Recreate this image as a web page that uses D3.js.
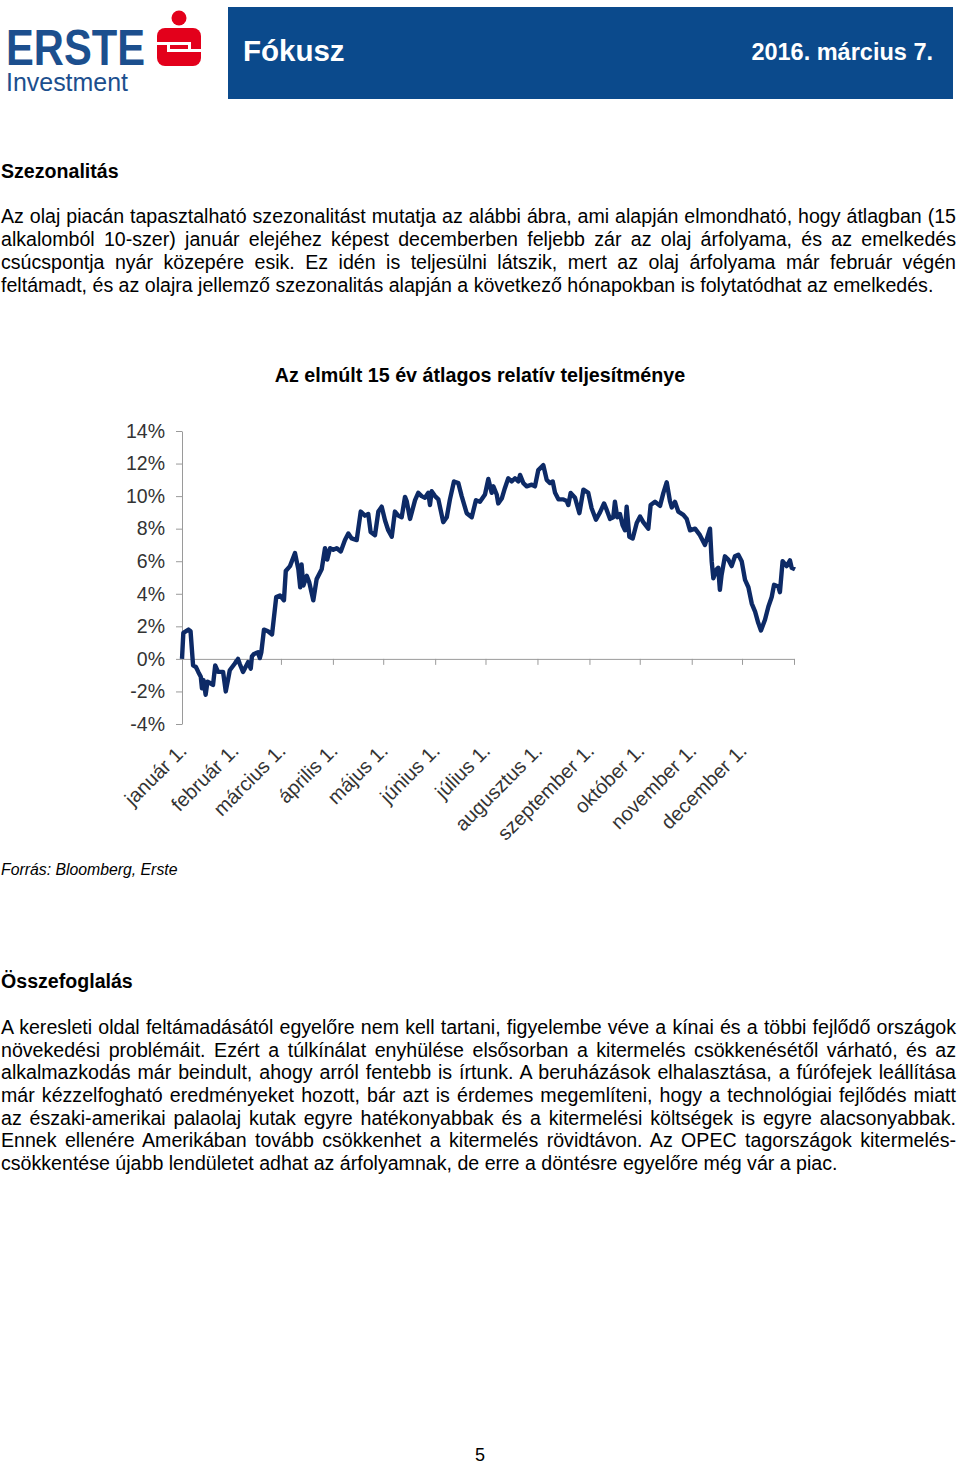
<!DOCTYPE html>
<html><head><meta charset="utf-8">
<script src="https://cdn.jsdelivr.net/npm/d3@7/dist/d3.min.js"></script>
<style>
html,body{margin:0;padding:0;background:#fff;}
#page{position:relative;width:960px;height:1465px;overflow:hidden;font-family:"Liberation Sans",Arial,sans-serif;color:#000;}
.abs{position:absolute;}
.jl{text-align:justify;text-align-last:justify;white-space:nowrap;}
.ll{text-align:left;white-space:nowrap;}
</style></head>
<body><div id="page"></div>
<script>
// ---------- data ----------
const title = "Az elmúlt 15 év átlagos relatív teljesítménye";
const monthLabels = ["január 1.","február 1.","március 1.","április 1.","május 1.","június 1.","július 1.","augusztus 1.","szeptember 1.","október 1.","november 1.","december 1."];
const monthStartDays = [0,31,59,90,120,151,181,212,243,273,304,334];
const yearEndDay = 365;
const yTicks = [-4,-2,0,2,4,6,8,10,12,14];
const days = [
 0,0.8,3.9,5.1,6.6,8.3,9.7,11.2,11.9,12.8,
 14.1,15.2,17.0,18.5,19.8,21.5,24.5,26.1,27.4,28.5,
 31.4,33.4,34.4,36.4,37.4,39.4,41.0,41.7,42.9,45.3,
 46.4,47.3,48.9,51.3,53.7,56.2,58.4,60.8,61.9,64.4,
 67.4,69.4,70.5,71.3,72.4,74.4,75.9,78.3,80.3,83.3,
 85.3,86.6,88.3,90.2,92.3,94.7,97.2,99.2,101.2,104.2,
 106.6,109.1,111.1,112.5,115.1,117.1,119.1,121.1,123.0,125.1,
 127.0,129.0,131.0,133.0,134.0,136.0,139.0,140.9,142.9,144.9,
 146.9,147.9,148.9,150.9,152.9,155.8,157.9,159.8,162.2,164.8,
 166.8,169.8,172.8,175.3,177.7,180.7,182.7,184.7,185.7,187.7,
 188.6,190.7,192.6,194.6,196.6,198.6,200.6,201.6,203.6,205.6,
 208.6,210.5,212.5,215.5,217.5,219.5,221.1,222.5,224.5,227.4,
 229.4,230.4,231.8,234.4,237.0,239.4,242.3,244.3,246.9,249.3,
 251.7,253.3,255.3,257.2,258.2,259.6,261.2,262.8,264.2,265.2,
 266.8,268.8,271.2,273.2,275.1,278.1,279.5,282.1,285.1,287.1,
 289.1,291.0,292.1,294.0,296.0,299.0,301.0,303.0,306.0,308.9,
 311.9,314.9,315.9,316.9,318.9,319.8,320.8,321.8,323.8,325.8,
 327.8,329.8,331.8,333.8,335.8,337.8,339.8,341.8,343.7,345.3,
 347.7,349.7,351.7,353.1,355.6,356.6,358.2,360.6,362.6,363.6,
 365.6];
const values = [
 0.0,1.6,1.8,1.7,-0.4,-0.5,-0.8,-1.1,-1.8,-1.3,
 -2.2,-1.4,-1.5,-1.6,-0.4,-0.8,-0.8,-2.0,-1.3,-0.7,
 -0.3,0.0,-0.3,-0.8,-0.6,-0.2,-0.6,0.15,0.3,0.4,
 0.05,0.4,1.8,1.7,1.5,3.8,3.9,3.6,5.4,5.7,
 6.5,5.5,4.4,5.8,4.5,5.1,4.7,3.6,4.9,5.5,
 6.8,6.1,6.8,6.7,6.8,6.6,7.3,7.7,7.4,7.3,
 9.05,8.8,8.9,7.8,7.6,9.05,9.35,8.5,7.9,7.5,
 9.05,8.8,8.7,9.95,9.7,8.6,9.75,10.2,10.0,9.9,
 10.2,9.45,10.3,10.0,9.8,8.4,8.7,9.8,10.9,10.8,
 10.0,8.95,8.7,9.75,9.65,10.1,11.05,10.2,10.6,10.1,
 9.55,9.85,10.5,11.1,10.9,11.1,10.9,11.3,10.8,10.6,
 10.7,10.6,11.6,11.9,11.0,10.8,10.9,10.2,9.8,9.8,
 9.7,9.45,10.2,9.9,8.95,10.4,10.2,9.25,8.55,9.0,
 9.55,9.15,8.6,8.7,9.65,8.7,8.9,8.2,7.9,9.35,
 7.5,7.4,8.35,8.75,8.4,8.0,9.45,9.65,9.4,10.2,
 10.85,9.7,9.3,9.65,9.05,8.85,8.6,7.9,8.0,7.6,
 7.0,8.0,6.0,4.95,5.5,5.6,4.25,5.15,6.3,6.1,
 5.7,6.3,6.4,6.0,4.85,4.4,3.4,2.9,2.2,1.75,
 2.4,3.2,3.8,4.55,4.45,4.1,6.0,5.7,6.05,5.6,
 5.5];
const para1 = [
 "Az olaj piacán tapasztalható szezonalitást mutatja az alábbi ábra, ami alapján elmondható, hogy átlagban (15",
 "alkalomból 10-szer) január elejéhez képest decemberben feljebb zár az olaj árfolyama, és az emelkedés",
 "csúcspontja nyár közepére esik. Ez idén is teljesülni látszik, mert az olaj árfolyama már február végén",
 "feltámadt, és az olajra jellemző szezonalitás alapján a következő hónapokban is folytatódhat az emelkedés."];
const para2 = [
 "A keresleti oldal feltámadásától egyelőre nem kell tartani, figyelembe véve a kínai és a többi fejlődő országok",
 "növekedési problémáit. Ezért a túlkínálat enyhülése elsősorban a kitermelés csökkenésétől várható, és az",
 "alkalmazkodás már beindult, ahogy arról fentebb is írtunk. A beruházások elhalasztása, a fúrófejek leállítása",
 "már kézzelfogható eredményeket hozott, bár azt is érdemes megemlíteni, hogy a technológiai fejlődés miatt",
 "az északi-amerikai palaolaj kutak egyre hatékonyabbak és a kitermelési költségek is egyre alacsonyabbak.",
 "Ennek ellenére Amerikában tovább csökkenhet a kitermelés rövidtávon. Az OPEC tagországok kitermelés-",
 "csökkentése újabb lendületet adhat az árfolyamnak, de erre a döntésre egyelőre még vár a piac."];

// ---------- page ----------
const page = d3.select("#page");
const svg = page.append("svg").attr("width",960).attr("height",1465)
  .style("position","absolute").style("left",0).style("top",0);

// header logo
const blue = "#1c4f8e";
svg.append("text").attr("x",6).attr("y",65).attr("font-family","Liberation Sans Narrow, Liberation Sans")
  .attr("font-weight","bold").attr("font-size",50).attr("textLength",139).attr("lengthAdjust","spacingAndGlyphs")
  .attr("fill",blue).text("ERSTE");
svg.append("text").attr("x",6).attr("y",91).attr("font-family","Liberation Sans Narrow, Liberation Sans")
  .attr("font-size",25).attr("textLength",122).attr("lengthAdjust","spacingAndGlyphs")
  .attr("fill",blue).text("Investment");
const red = "#e3001b";
svg.append("circle").attr("cx",179).attr("cy",18).attr("r",7.5).attr("fill",red);
svg.append("rect").attr("x",157).attr("y",28).attr("width",44).attr("height",38).attr("rx",8).attr("fill",red);
svg.append("rect").attr("x",157).attr("y",42).attr("width",34).attr("height",3).attr("fill","#fff");
svg.append("rect").attr("x",167).attr("y",49).attr("width",34).attr("height",3).attr("fill","#fff");
svg.append("rect").attr("x",188).attr("y",42).attr("width",3).attr("height",10).attr("fill","#fff");
svg.append("rect").attr("x",167).attr("y",42).attr("width",3).attr("height",10).attr("fill","#fff");
// banner
svg.append("rect").attr("x",228).attr("y",7).attr("width",725).attr("height",92).attr("fill","#0b4a8c");
svg.append("text").attr("x",243).attr("y",61).attr("font-weight","bold").attr("font-size",29.5)
  .attr("font-family","Liberation Sans").attr("fill","#fff").text("Fókusz");
svg.append("text").attr("x",933).attr("y",60).attr("text-anchor","end").attr("font-weight","bold").attr("font-size",23.5)
  .attr("font-family","Liberation Sans").attr("fill","#fff").text("2016. március 7.");

// text blocks
const FS = 19.6;
function block(top, lines, lh){
  const div = page.append("div").attr("class","abs").style("left","1px").style("top",top+"px")
    .style("width","955px").style("font-size",FS+"px").style("line-height",lh+"px");
  lines.forEach((t,i)=>{
    div.append("div").attr("class", i<lines.length-1 ? "jl" : "ll").text(t);
  });
}
page.append("div").attr("class","abs").style("left","1px").style("top","160px")
  .style("font-size","19.6px").style("font-weight","bold").style("line-height","23px").text("Szezonalitás");
block(205, para1, 23);
page.append("div").attr("class","abs").style("left","1px").style("top","861px")
  .style("font-size","15.8px").style("font-style","italic").style("line-height","18px").text("Forrás: Bloomberg, Erste");
page.append("div").attr("class","abs").style("left","1px").style("top","970px")
  .style("font-size","19.6px").style("font-weight","bold").style("line-height","23px").text("Összefoglalás");
block(1016, para2, 22.67);
page.append("div").attr("class","abs").style("left","0px").style("width","960px").style("text-align","center")
  .style("top","1446px").style("font-size","18px").style("line-height","19px").text("5");

// ---------- chart ----------
svg.append("text").attr("x",480).attr("y",382).attr("text-anchor","middle").attr("font-weight","bold")
  .attr("font-size",19.7).attr("font-family","Liberation Sans").text(title);

const x = d3.scaleLinear().domain([0,yearEndDay]).range([182,794]);
const y = d3.scaleLinear().domain([-4,14]).range([724,431]);
const axisColor = "#9a9a9a";

const gy = svg.append("g").attr("transform","translate(182,0)")
  .call(d3.axisLeft(y).tickValues(yTicks).tickSize(6).tickSizeOuter(0).tickPadding(11).tickFormat(d=>d+"%"));
gy.select(".domain").attr("stroke",axisColor);
gy.selectAll(".tick line").attr("stroke",axisColor);
gy.selectAll(".tick text").attr("font-size",19.5).attr("font-family","Liberation Sans").attr("fill","#333");

const gx = svg.append("g").attr("transform",`translate(0,${y(0)})`)
  .call(d3.axisBottom(x).tickValues(monthStartDays.concat([yearEndDay])).tickSize(6).tickSizeOuter(0).tickFormat(""));
gx.select(".domain").attr("stroke",axisColor);
gx.selectAll(".tick line").attr("stroke",axisColor);

svg.append("g").selectAll("text").data(monthLabels).join("text")
  .attr("transform",(d,i)=>`translate(${x(monthStartDays[i])+1},${747}) rotate(-45)`)
  .attr("text-anchor","end").attr("dy","0.35em")
  .attr("font-size",20).attr("font-family","Liberation Sans").attr("fill","#333").text(d=>d);

const pts = days.map((d,i)=>({day:d, value:values[i]}));
svg.append("path").datum(pts)
  .attr("fill","none").attr("stroke","#0d2a66").attr("stroke-width",4.4).attr("stroke-linejoin","round")
  .attr("d", d3.line().x(d=>x(d.day)).y(d=>y(d.value)));
</script></body></html>
